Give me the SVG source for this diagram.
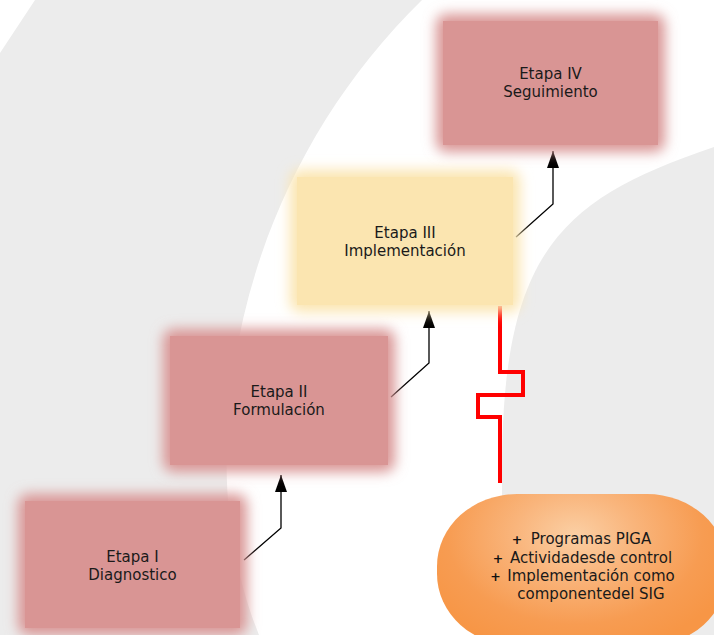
<svg xmlns="http://www.w3.org/2000/svg" width="714" height="635" viewBox="0 0 714 635">
  <defs>
    <style>
      .bg { fill: #ececec; }
      .pink { fill: #d99594; }
      .yellow { fill: #fbe5b0; }
      .lbl { font-family: "DejaVu Sans", Verdana, sans-serif; font-size: 15px; fill: #1a1a1a; text-anchor: middle; }
      .bul { font-family: "DejaVu Sans", Verdana, sans-serif; font-size: 12.5px; font-weight: bold; fill: #111; text-anchor: middle; }
      .conn { fill: none; stroke: #000; stroke-width: 1.3; }
      .red { fill: none; stroke: #ff0000; stroke-width: 4; }
    </style>
    <filter id="glow" x="-30%" y="-30%" width="160%" height="160%">
      <feGaussianBlur stdDeviation="6.5"/>
    </filter>
    <marker id="arr" markerUnits="userSpaceOnUse" markerWidth="17" markerHeight="12" refX="17" refY="6" orient="auto">
      <path d="M0,0 L17,6 L0,12 Z" fill="#000"/>
    </marker>
    <radialGradient id="og" cx="575" cy="535" r="170" gradientUnits="userSpaceOnUse" gradientTransform="translate(575 535) scale(1 0.7) translate(-575 -535)">
      <stop offset="0" stop-color="#fbcfa4"/>
      <stop offset="0.35" stop-color="#f9b57c"/>
      <stop offset="0.75" stop-color="#f79c52"/>
      <stop offset="1" stop-color="#f79646"/>
    </radialGradient>
  </defs>

  <!-- background -->
  <rect x="0" y="0" width="714" height="635" fill="#ffffff"/>
  <path class="bg" d="M35,0 H422 C297.3,122.1 226.6,289.3 226.6,464 C226.6,540 245,600 259,635 H0 V53 Z"/>
  <path class="bg" d="M714,147 C562,198.6 502,250 502,470 L502,635 L714,635 Z"/>

  <!-- connectors -->
  <g id="connectors">
    <path class="conn" d="M244,560 L281,528 V475" marker-end="url(#arr)"/>
    <path class="conn" d="M391,397 L429,363 V311" marker-end="url(#arr)"/>
    <path class="conn" d="M516,237 L553,204 V151" marker-end="url(#arr)"/>
    <path class="red" d="M500,306 V372 H523 V395 H478 V417 H500 V483"/>
  </g>

  <!-- nodes -->
  <g id="etapa1">
    <rect class="pink" x="18" y="494" width="229" height="141" rx="10" filter="url(#glow)"/>
    <rect class="pink" x="25" y="501" width="215" height="127"/>
    <text class="lbl" x="132.5" y="561.5">Etapa I</text>
    <text class="lbl" x="132.5" y="579.5">Diagnostico</text>
  </g>
  <g id="etapa2">
    <rect class="pink" x="163" y="329" width="232" height="143" rx="10" filter="url(#glow)"/>
    <rect class="pink" x="170" y="336" width="218" height="129"/>
    <text class="lbl" x="279" y="397">Etapa II</text>
    <text class="lbl" x="279" y="415">Formulación</text>
  </g>
  <g id="etapa3">
    <rect class="yellow" x="290" y="170" width="230" height="142" rx="10" filter="url(#glow)"/>
    <rect class="yellow" x="297" y="177" width="216" height="128"/>
    <text class="lbl" x="405" y="237.5">Etapa III</text>
    <text class="lbl" x="405" y="255.5">Implementación</text>
  </g>
  <g id="etapa4">
    <rect class="pink" x="436" y="14" width="229" height="138" rx="10" filter="url(#glow)"/>
    <rect class="pink" x="443" y="21" width="215" height="124"/>
    <text class="lbl" x="550.5" y="79">Etapa IV</text>
    <text class="lbl" x="550.5" y="97">Seguimiento</text>
  </g>
  <g id="actividades">
    <rect x="437" y="494" width="290" height="152" rx="80" ry="72" fill="url(#og)"/>
    <text class="bul" x="517" y="544">+</text>
    <text class="lbl" x="591" y="544">Programas PIGA</text>
    <text class="bul" x="498" y="562.5">+</text>
    <text class="lbl" x="591" y="562.5">Actividadesde control</text>
    <text class="bul" x="495.5" y="580.5">+</text>
    <text class="lbl" x="591" y="580.5">Implementación como</text>
    <text class="lbl" x="591" y="598.5">componentedel SIG</text>
  </g>
</svg>
